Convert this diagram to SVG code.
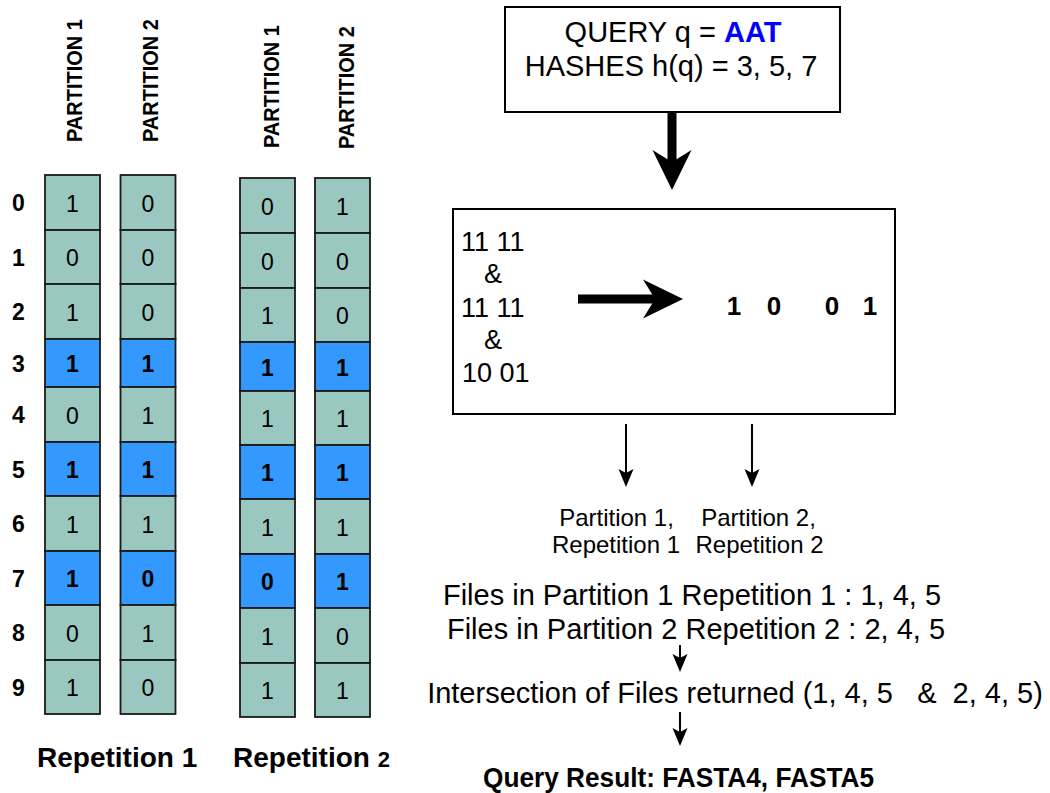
<svg xmlns="http://www.w3.org/2000/svg" width="1050" height="793" viewBox="0 0 1050 793">
<style>
text{font-family:"Liberation Sans",Arial,Helvetica,sans-serif;fill:#000}
.cell{fill:#9AC7BF;stroke:#1a1a1a;stroke-width:1.8}
.hit{fill:#3399FF;stroke:#1a1a1a;stroke-width:1.8}
.v{font-size:23px;text-anchor:middle}
.vb{font-size:23px;text-anchor:middle;font-weight:bold}
.rl{font-size:23px;text-anchor:middle;font-weight:bold}
.pl{font-size:22px;font-weight:bold}
.rep{font-size:28px;font-weight:bold}
.box{fill:#fff;stroke:#000;stroke-width:2}
.big{font-size:29px}
.mid{font-size:24px;text-anchor:middle}
.thick{stroke:#000;stroke-width:9;fill:none}
.thin{stroke:#000;stroke-width:2;fill:none}
</style>
<defs>
<marker id="bigHead" markerUnits="userSpaceOnUse" viewBox="0 -20 40 40" markerWidth="40" markerHeight="40" refX="12" refY="0" orient="auto" overflow="visible">
<path d="M0,-19.5 L40,0 L0,19.5 L12,0 Z" fill="#000"/>
</marker>
<marker id="thinHead" markerUnits="userSpaceOnUse" viewBox="0 -9 18 18" markerWidth="18" markerHeight="18" refX="4" refY="0" orient="auto" overflow="visible">
<path d="M0,-7.5 L18,0 L0,7.5 L4,0 Z" fill="#000"/>
</marker>
</defs>

<g id="partition-labels">
<text class="pl" transform="translate(82,142) rotate(-90)" textLength="123" lengthAdjust="spacingAndGlyphs">PARTITION 1</text>
<text class="pl" transform="translate(158,142) rotate(-90)" textLength="123" lengthAdjust="spacingAndGlyphs">PARTITION 2</text>
<text class="pl" transform="translate(279,148) rotate(-90)" textLength="123" lengthAdjust="spacingAndGlyphs">PARTITION 1</text>
<text class="pl" transform="translate(354,149) rotate(-90)" textLength="123" lengthAdjust="spacingAndGlyphs">PARTITION 2</text>
</g>

<g id="row-labels">
<text class="rl" x="18.5" y="211">0</text>
<text class="rl" x="18.5" y="265.5">1</text>
<text class="rl" x="18.5" y="320">2</text>
<text class="rl" x="18.5" y="371.5">3</text>
<text class="rl" x="18.5" y="423">4</text>
<text class="rl" x="18.5" y="477.5">5</text>
<text class="rl" x="18.5" y="532">6</text>
<text class="rl" x="18.5" y="586.5">7</text>
<text class="rl" x="18.5" y="641">8</text>
<text class="rl" x="18.5" y="695.5">9</text>
</g>

<g id="rep1-partition1">
<g id="r1p1-0"><rect class="cell" x="45" y="175" width="55" height="55"/><text class="v" x="72.5" y="211.5">1</text></g>
<g id="r1p1-1"><rect class="cell" x="45" y="230" width="55" height="54"/><text class="v" x="72.5" y="266">0</text></g>
<g id="r1p1-2"><rect class="cell" x="45" y="284" width="55" height="55"/><text class="v" x="72.5" y="320.5">1</text></g>
<g id="r1p1-3"><rect class="hit" x="45" y="339" width="55" height="48"/><text class="vb" x="72.5" y="372">1</text></g>
<g id="r1p1-4"><rect class="cell" x="45" y="387" width="55" height="55"/><text class="v" x="72.5" y="423.5">0</text></g>
<g id="r1p1-5"><rect class="hit" x="45" y="442" width="55" height="54"/><text class="vb" x="72.5" y="478">1</text></g>
<g id="r1p1-6"><rect class="cell" x="45" y="496" width="55" height="55"/><text class="v" x="72.5" y="532.5">1</text></g>
<g id="r1p1-7"><rect class="hit" x="45" y="551" width="55" height="54"/><text class="vb" x="72.5" y="587">1</text></g>
<g id="r1p1-8"><rect class="cell" x="45" y="605" width="55" height="55"/><text class="v" x="72.5" y="641.5">0</text></g>
<g id="r1p1-9"><rect class="cell" x="45" y="660" width="55" height="54"/><text class="v" x="72.5" y="696">1</text></g>
</g>

<g id="rep1-partition2">
<g id="r1p2-0"><rect class="cell" x="120.5" y="175" width="55" height="55"/><text class="v" x="148" y="211.5">0</text></g>
<g id="r1p2-1"><rect class="cell" x="120.5" y="230" width="55" height="54"/><text class="v" x="148" y="266">0</text></g>
<g id="r1p2-2"><rect class="cell" x="120.5" y="284" width="55" height="55"/><text class="v" x="148" y="320.5">0</text></g>
<g id="r1p2-3"><rect class="hit" x="120.5" y="339" width="55" height="48"/><text class="vb" x="148" y="372">1</text></g>
<g id="r1p2-4"><rect class="cell" x="120.5" y="387" width="55" height="55"/><text class="v" x="148" y="423.5">1</text></g>
<g id="r1p2-5"><rect class="hit" x="120.5" y="442" width="55" height="54"/><text class="vb" x="148" y="478">1</text></g>
<g id="r1p2-6"><rect class="cell" x="120.5" y="496" width="55" height="55"/><text class="v" x="148" y="532.5">1</text></g>
<g id="r1p2-7"><rect class="hit" x="120.5" y="551" width="55" height="54"/><text class="vb" x="148" y="587">0</text></g>
<g id="r1p2-8"><rect class="cell" x="120.5" y="605" width="55" height="55"/><text class="v" x="148" y="641.5">1</text></g>
<g id="r1p2-9"><rect class="cell" x="120.5" y="660" width="55" height="54"/><text class="v" x="148" y="696">0</text></g>
</g>

<g id="rep2-partition1">
<g id="r2p1-0"><rect class="cell" x="240" y="178" width="55" height="55"/><text class="v" x="267.5" y="214.5">0</text></g>
<g id="r2p1-1"><rect class="cell" x="240" y="233" width="55" height="55"/><text class="v" x="267.5" y="269.5">0</text></g>
<g id="r2p1-2"><rect class="cell" x="240" y="288" width="55" height="54"/><text class="v" x="267.5" y="324">1</text></g>
<g id="r2p1-3"><rect class="hit" x="240" y="342" width="55" height="49"/><text class="vb" x="267.5" y="375.5">1</text></g>
<g id="r2p1-4"><rect class="cell" x="240" y="391" width="55" height="54"/><text class="v" x="267.5" y="427">1</text></g>
<g id="r2p1-5"><rect class="hit" x="240" y="445" width="55" height="54"/><text class="vb" x="267.5" y="481">1</text></g>
<g id="r2p1-6"><rect class="cell" x="240" y="499" width="55" height="55"/><text class="v" x="267.5" y="535.5">1</text></g>
<g id="r2p1-7"><rect class="hit" x="240" y="554" width="55" height="54"/><text class="vb" x="267.5" y="590">0</text></g>
<g id="r2p1-8"><rect class="cell" x="240" y="608" width="55" height="55"/><text class="v" x="267.5" y="644.5">1</text></g>
<g id="r2p1-9"><rect class="cell" x="240" y="663" width="55" height="54"/><text class="v" x="267.5" y="699">1</text></g>
</g>

<g id="rep2-partition2">
<g id="r2p2-0"><rect class="cell" x="315" y="178" width="55" height="55"/><text class="v" x="342.5" y="214.5">1</text></g>
<g id="r2p2-1"><rect class="cell" x="315" y="233" width="55" height="55"/><text class="v" x="342.5" y="269.5">0</text></g>
<g id="r2p2-2"><rect class="cell" x="315" y="288" width="55" height="54"/><text class="v" x="342.5" y="324">0</text></g>
<g id="r2p2-3"><rect class="hit" x="315" y="342" width="55" height="49"/><text class="vb" x="342.5" y="375.5">1</text></g>
<g id="r2p2-4"><rect class="cell" x="315" y="391" width="55" height="54"/><text class="v" x="342.5" y="427">1</text></g>
<g id="r2p2-5"><rect class="hit" x="315" y="445" width="55" height="54"/><text class="vb" x="342.5" y="481">1</text></g>
<g id="r2p2-6"><rect class="cell" x="315" y="499" width="55" height="55"/><text class="v" x="342.5" y="535.5">1</text></g>
<g id="r2p2-7"><rect class="hit" x="315" y="554" width="55" height="54"/><text class="vb" x="342.5" y="590">1</text></g>
<g id="r2p2-8"><rect class="cell" x="315" y="608" width="55" height="55"/><text class="v" x="342.5" y="644.5">0</text></g>
<g id="r2p2-9"><rect class="cell" x="315" y="663" width="55" height="54"/><text class="v" x="342.5" y="699">1</text></g>
</g>

<g id="repetition-labels">
<text class="rep" x="37" y="767">Repetition 1</text>
<text class="rep" x="233" y="767">Repetition <tspan font-size="22px">2</tspan></text>
</g>

<g id="query-box">
<rect class="box" x="505" y="7" width="335" height="105"/>
<text class="big" x="673" y="42" text-anchor="middle">QUERY q = <tspan font-weight="bold" fill="#0000FF">AAT</tspan></text>
<text class="big" x="671" y="76" text-anchor="middle">HASHES h(q) = 3, 5, 7</text>
</g>

<g id="and-box">
<rect class="box" x="453" y="209" width="442" height="205"/>
<text font-size="27px" x="461" y="251">11 11</text>
<text font-size="27px" x="484" y="283">&amp;</text>
<text font-size="27px" x="461" y="317">11 11</text>
<text font-size="27px" x="484" y="349">&amp;</text>
<text font-size="27px" x="462" y="382">10 01</text>
<g font-size="26px" font-weight="bold" text-anchor="middle">
<text x="734" y="315">1</text>
<text x="774" y="315">0</text>
<text x="832" y="315">0</text>
<text x="870" y="315">1</text>
</g>
</g>

<g id="partition-repetition-labels">
<text class="mid" x="616.5" y="525.5">Partition 1,</text>
<text class="mid" x="616" y="553">Repetition 1</text>
<text class="mid" x="758.5" y="525.5">Partition 2,</text>
<text class="mid" x="759.5" y="553">Repetition 2</text>
</g>

<g id="files-text">
<text class="big" x="692" y="605" text-anchor="middle">Files in Partition 1 Repetition 1 : 1, 4, 5</text>
<text class="big" x="696" y="639" text-anchor="middle">Files in Partition 2 Repetition 2 : 2, 4, 5</text>
</g>

<g id="intersection-text">
<text class="big" x="735" y="703" text-anchor="middle" xml:space="preserve">Intersection of Files returned (1, 4, 5   &amp;  2, 4, 5)</text>
</g>

<g id="result-text">
<text x="483" y="787" font-size="28px" font-weight="bold" textLength="391" lengthAdjust="spacingAndGlyphs">Query Result: FASTA4, FASTA5</text>
</g>

<g id="connectors">
<line class="thick" x1="672" y1="112" x2="672" y2="162" marker-end="url(#bigHead)"/>
<line class="thick" x1="578" y1="299" x2="655" y2="299" marker-end="url(#bigHead)"/>
<line class="thin" x1="626" y1="424" x2="626" y2="473" marker-end="url(#thinHead)"/>
<line class="thin" x1="752" y1="424" x2="752" y2="473" marker-end="url(#thinHead)"/>
<line class="thin" x1="680" y1="645" x2="680" y2="658" marker-end="url(#thinHead)"/>
<line class="thin" x1="680" y1="712" x2="680" y2="732" marker-end="url(#thinHead)"/>
</g>
</svg>
